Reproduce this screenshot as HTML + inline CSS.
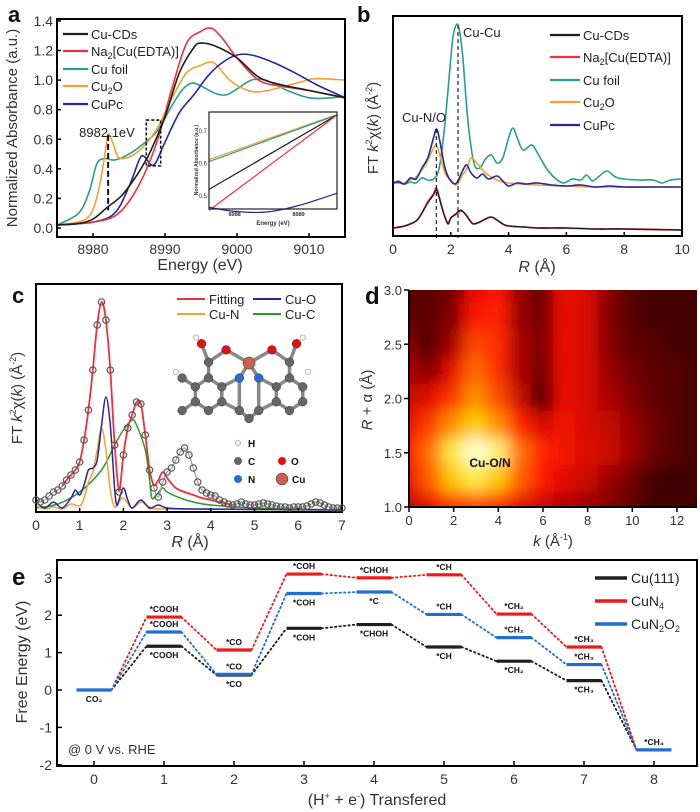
<!DOCTYPE html>
<html><head><meta charset="utf-8"><style>
html,body{margin:0;padding:0;background:#fff;}
svg{display:block;font-family:"Liberation Sans",Arial,sans-serif;}
</style></head><body>
<svg id="fig" width="700" height="812" viewBox="0 0 700 812" xmlns="http://www.w3.org/2000/svg">
<defs>
<filter id="blurD" x="-20%" y="-20%" width="140%" height="140%"><feGaussianBlur stdDeviation="8"/></filter>
<clipPath id="clipD"><rect x="409" y="290" width="288" height="217"/></clipPath>
</defs>
</svg>
<script>
// ---------- Panel a data ----------
const aSeriesNames = ["Cu-CDs","Na2[Cu(EDTA)]","Cu foil","Cu2O","CuPc"];
const aCuCDsE = [8975,8978,8980,8982,8984,8986,8987,8988,8990,8992,8994,8995,8997,9000,9003,9006,9010,9015];
const aCuCDsV = [0.02,0.03,0.06,0.14,0.22,0.35,0.43,0.52,0.75,1.05,1.22,1.25,1.23,1.15,1.02,0.97,0.93,0.88];
const aEdtaE = [8975,8980,8983,8985,8987,8989,8991,8993,8995,8996.5,8998,9000,9003,9006,9010,9015];
const aEdtaV = [0.02,0.04,0.08,0.18,0.35,0.6,0.95,1.25,1.33,1.35,1.28,1.15,1.0,0.96,0.93,0.88];
const aFoilE = [8975,8978,8979.5,8980.5,8981.5,8983,8985,8987,8989,8991,8992.5,8993.8,8995,8997,8998.5,9000,9002,9004,9007,9010,9013,9015];
const aFoilV = [0.02,0.1,0.25,0.43,0.47,0.46,0.5,0.57,0.66,0.83,0.94,0.98,0.96,0.91,0.9,0.94,1.0,1.0,0.93,0.88,0.88,0.89];
const aCu2OE = [8975,8979,8980.5,8981.5,8982.1,8982.8,8983.5,8985,8987,8989,8991,8993,8995,8996,8997,8999,9001,9003,9006,9009,9011,9015];
const aCu2OV = [0.02,0.06,0.2,0.45,0.63,0.57,0.48,0.48,0.55,0.68,0.88,1.05,1.1,1.12,1.11,1.0,0.94,0.92,0.95,0.99,1.01,1.0];
const aCuPcE = [8975,8980,8983,8985,8986.5,8987.2,8988,8988.7,8990,8992,8994,8996,8998,9000,9002,9005,9008,9011,9015];
const aCuPcV = [0.02,0.04,0.1,0.28,0.47,0.48,0.43,0.44,0.58,0.78,0.9,1.03,1.12,1.17,1.17,1.12,1.05,0.97,0.88];
const aXTicks = [8980,8990,9000,9010];
const aYTicks = [0.0,0.2,0.4,0.6,0.8,1.0,1.2,1.4];
const aInsetE = [8987.6,8989.6];
const aInsetOrange = [0.612,0.752];
const aInsetTeal = [0.606,0.75];
const aInsetBlack = [0.52,0.75];
const aInsetRed = [0.455,0.75];
const aInsetBlueE = [8987.6,8988,8988.5,8989,8989.6];
const aInsetBlueV = [0.465,0.452,0.45,0.47,0.508];
// ---------- Panel b data ----------
const bFoilR = [0,0.2,0.4,0.6,0.8,1.0,1.2,1.4,1.6,1.8,2.0,2.1,2.25,2.4,2.6,2.8,3.0,3.2,3.4,3.6,3.8,4.0,4.15,4.3,4.5,4.8,5.0,5.3,5.6,5.9,6.2,6.5,6.7,6.9,7.1,7.4,7.7,8.0,8.5,9.0,9.3,9.6,10];
const bFoilV = [0,2,-1,1,0,5,3,4,15,60,125,150,158,130,60,20,15,24,28,20,25,45,55,45,33,38,30,15,5,0,4,3,8,2,6,12,6,4,3,3,0,3,4];
const bCuPcR = [0,0.2,0.4,0.6,0.8,1.0,1.2,1.4,1.5,1.6,1.8,2.0,2.2,2.4,2.55,2.7,2.9,3.1,3.3,3.6,3.8,4.0,4.3,4.6,5.0,5.5,6.0,6.5,7.0,7.5,8,9,10];
const bCuPcV = [0,1,-1,5,4,15,25,45,54,45,15,2,0,12,18,10,5,9,4,7,2,-3,0,-1,0,-2,-3,-2,-4,-3,-4,-4,-4];
const bCu2OR = [0,0.4,0.6,0.8,1.0,1.2,1.4,1.5,1.6,1.8,2.0,2.2,2.4,2.55,2.7,2.9,3.2,3.6,4.0,5,6,7,8,10];
const bCu2OV = [0,0,3,6,13,22,35,38,30,10,3,-2,8,14,25,20,10,3,0,-2,-3,-4,-4,-4];
const bCDsR = [0,0.4,0.8,1.0,1.2,1.4,1.5,1.6,1.75,1.9,2.0,2.2,2.35,2.5,2.7,2.8,3.0,3.2,3.4,3.6,3.8,4.0,4.5,5,6,7,8,10];
const bCDsV = [0,2,7,15,25,33,38,30,15,4,10,15,18,14,6,4,6,9,11,8,4,2,1,0,0,-1,-1,-2];
const bEdtaV = [0,2,7,15,26,34,40,31,15,5,10,14,17,14,6,4,6,9,11,8,4,2,1,0,0,-1,-1,-2];
const bXTicks = [0,2,4,6,8,10];
// ---------- Panel c data ----------
const cExpR = [0,0.1,0.2,0.3,0.4,0.5,0.6,0.7,0.8,0.9,1.0,1.1,1.2,1.3,1.4,1.5,1.6,1.7,1.8,1.9,2.0,2.1,2.2,2.3,2.4,2.5,2.6,2.7,2.8,2.9,3.0,3.1,3.2,3.3,3.4,3.5,3.6,3.7,3.8,3.9,4.0,4.1,4.2,4.3,4.4,4.5,4.6,4.7,4.8,4.9,5.0,5.1,5.2,5.3,5.4,5.5,5.6,5.7,5.8,5.9,6.0,6.1,6.2,6.3,6.4,6.5,6.6,6.7,6.8,6.9,7.0];
const cExpV = [10,8,10,14,18,20,24,30,35,40,48,70,100,140,185,208,190,140,65,18,55,82,95,108,106,75,40,22,13,28,38,42,50,58,62,55,42,28,20,17,15,14,10,8,6,5,6,8,6,5,5,6,7,6,5,4,3,3,2,3,3,3,4,6,8,7,5,3,2,2,2];
const cFitR = [0.6,0.7,0.8,0.9,1.0,1.1,1.2,1.3,1.4,1.5,1.6,1.7,1.8,1.9,2.0,2.1,2.2,2.3,2.4,2.5,2.6,2.7,2.8,2.9,3.0,3.2,3.4,3.6,3.8,4.0,4.5];
const cFitV = [24,30,35,40,48,70,100,140,185,208,190,140,65,20,55,82,95,108,106,75,40,25,30,38,32,22,18,15,12,10,5];
const cOR = [0,0.2,0.4,0.6,0.8,0.9,1.0,1.1,1.2,1.3,1.4,1.5,1.6,1.7,1.8,1.85,1.9,2.0,2.1,2.2,2.4,2.6,2.8,3.0,3.5,4,7];
const cOV = [8,2,8,2,12,20,15,25,40,42,50,85,113,85,20,5,10,22,10,2,10,2,5,2,1,1,0];
const cNR = [0,0.2,0.4,0.6,0.8,1.0,1.1,1.2,1.3,1.4,1.5,1.6,1.7,1.8,1.9,2.0,2.2,2.4,2.6,3,7];
const cNV = [4,1,3,1,6,4,12,28,38,60,82,60,20,3,8,12,2,8,3,1,0];
const cCR = [0,0.5,1.0,1.5,1.8,2.0,2.2,2.3,2.5,2.6,2.65,2.75,2.9,3.0,3.3,3.6,4.0,5,7];
const cCV = [2,6,18,40,65,80,90,85,60,30,12,15,22,18,12,8,5,2,0];
const cXTicks = [0,1,2,3,4,5,6,7];
// ---------- Panel d data ----------
const dK = [0,1,2,3,4,5,6,7,8,9,10,11,12,13];
const dR = [3.0,2.75,2.5,2.25,2.0,1.75,1.5,1.25,1.0];
const dZ = [
[0.12,0.15,0.2,0.5,0.55,0.3,0.15,0.5,0.45,0.25,0.12,0.08,0.08,0.08],
[0.15,0.15,0.25,0.55,0.58,0.3,0.2,0.5,0.45,0.25,0.12,0.08,0.08,0.08],
[0.25,0.1,0.35,0.65,0.6,0.35,0.22,0.5,0.45,0.25,0.15,0.12,0.08,0.08],
[0.35,0.25,0.5,0.72,0.6,0.35,0.2,0.5,0.45,0.3,0.2,0.15,0.12,0.08],
[0.42,0.48,0.62,0.78,0.66,0.42,0.08,0.5,0.45,0.35,0.25,0.15,0.12,0.08],
[0.5,0.63,0.78,0.86,0.78,0.58,0.45,0.52,0.45,0.4,0.3,0.2,0.12,0.08],
[0.55,0.74,0.92,1.0,0.95,0.74,0.58,0.52,0.48,0.42,0.32,0.18,0.12,0.08],
[0.5,0.7,0.85,0.92,0.85,0.7,0.55,0.48,0.42,0.32,0.2,0.08,0.05,0.08],
[0.4,0.5,0.6,0.65,0.6,0.5,0.42,0.38,0.32,0.25,0.15,0.08,0.08,0.08]];
const dXTicks = [0,2,4,6,8,10,12];
const dYTicks = [1.0,1.5,2.0,2.5,3.0];
// ---------- Panel e data ----------
const eSteps = [0,1,2,3,4,5,6,7,8];
const eCu111 = [0,1.17,0.40,1.65,1.75,1.15,0.77,0.25,-1.6];
const eCuN4 = [0,1.95,1.07,3.1,3.0,3.08,2.03,1.15,-1.6];
const eCuN2O2 = [0,1.55,0.42,2.58,2.62,2.02,1.4,0.68,-1.6];
const eLblBlack = ["","*COOH","*CO","*COH","*CHOH","*CH","*CH₂","*CH₃",""];
const eLblRed = ["","*COOH","*CO","*COH","*CHOH","*CH","*CH₂","*CH₃",""];
const eLblBlue = ["CO₂","*COOH","*CO","*COH","*C","*CH","*CH₂","*CH₃","*CH₄"];
const eBlueBelow = [true,false,false,true,true,false,false,false,false];
const eYTicks = [-2,-1,0,1,2,3];

const NS="http://www.w3.org/2000/svg";
const svg=document.getElementById('fig');
function el(tag,attrs,parent){const e=document.createElementNS(NS,tag);for(const k in attrs)e.setAttribute(k,attrs[k]);(parent||svg).appendChild(e);return e;}
function txt(s,x,y,size,anchor,parent,extra){const t=el('text',Object.assign({x:x,y:y,'font-size':size,'text-anchor':anchor||'middle',fill:'#111'},extra||{}),parent);t.textContent=s;return t;}
function smooth(pts){let d='M'+pts[0][0].toFixed(1)+','+pts[0][1].toFixed(1);for(let i=0;i<pts.length-1;i++){const p0=pts[i-1]||pts[i],p1=pts[i],p2=pts[i+1],p3=pts[i+2]||p2;const c1x=p1[0]+(p2[0]-p0[0])/6,c1y=p1[1]+(p2[1]-p0[1])/6,c2x=p2[0]-(p3[0]-p1[0])/6,c2y=p2[1]-(p3[1]-p1[1])/6;d+='C'+c1x.toFixed(1)+','+c1y.toFixed(1)+' '+c2x.toFixed(1)+','+c2y.toFixed(1)+' '+p2[0].toFixed(1)+','+p2[1].toFixed(1);}return d;}
function curve(xs,ys,fx,fy,color,w,parent,name){const p=el('path',{d:smooth(xs.map((x,i)=>[fx(x),fy(ys[i])])),fill:'none',stroke:color,'stroke-width':w,'stroke-linejoin':'round'},parent);return p;}
function group(name){const g=el('g',{});return g;}
const COL={black:'#1e1e1e',red:'#f0303a',teal:'#2a9d8f',orange:'#f6a030',blue:'#2626a0',green:'#2a9a2a',eblue:'#1f6fd0',ered:'#f01818'};

// ================= Panel a =================
(function(){
const g=group('panel-a');
const ax=e=>57+(e-8975)*7.2, ay=v=>228-v*147.9;
txt('a',8,22,22,'start',g,{'font-weight':'bold'});
const cols=[COL.black,COL.red,COL.teal,COL.orange,COL.blue];
curve(aFoilE,aFoilV,ax,ay,COL.teal,1.6,g,'series-cu-foil');
curve(aCu2OE,aCu2OV,ax,ay,COL.orange,1.6,g,'series-cu2o');
curve(aCuPcE,aCuPcV,ax,ay,COL.blue,1.6,g,'series-cupc');
curve(aEdtaE,aEdtaV,ax,ay,COL.red,1.6,g,'series-na2-cu-edta');
curve(aCuCDsE,aCuCDsV,ax,ay,COL.black,1.6,g,'series-cu-cds');
const box=el('rect',{x:57,y:19,width:288,height:218,fill:'none',stroke:'#000','stroke-width':2},g);

aYTicks.forEach(v=>{el('line',{x1:57,x2:61,y1:ay(v),y2:ay(v),stroke:'#000','stroke-width':1.5},g);const t=txt(v.toFixed(1),53,ay(v)+5,14,'end',g,{fill:'#333'});});
aXTicks.forEach(v=>{el('line',{x1:ax(v),x2:ax(v),y1:237,y2:233,stroke:'#000','stroke-width':1.5},g);const t=txt(String(v),ax(v),254,14,'middle',g,{fill:'#333'});});
const xt=txt('Energy (eV)',200,270,16,'middle',g,{fill:'#333'});
const yt=txt('Normalized Absorbance (a.u.)',0,0,15,'middle',g,{fill:'#333',transform:'translate(17,128) rotate(-90)'});
const lg=group('legend-a');
const lys=[34,51,69,86,104];
const lbl=['Cu-CDs','Na<tspan font-size="9" dy="3">2</tspan><tspan dy="-3">[Cu(EDTA)]</tspan>','Cu foil','Cu<tspan font-size="9" dy="3">2</tspan><tspan dy="-3">O</tspan>','CuPc'];
lys.forEach((y,i)=>{el('line',{x1:63,x2:88,y1:y,y2:y,stroke:cols[i],'stroke-width':2.2},lg);const t=el('text',{x:91,y:y+5,'font-size':13,fill:'#222'},lg);t.innerHTML=lbl[i];});
el('line',{x1:ax(8982.1),x2:ax(8982.1),y1:ay(0.63),y2:ay(0.12),stroke:'#111','stroke-width':2,'stroke-dasharray':'6,3'},g);
const an=txt('8982.1eV',107,137,13,'middle',g,{fill:'#222'});
el('rect',{x:ax(8987.4),y:ay(0.73),width:ax(8989.4)-ax(8987.4),height:ay(0.42)-ay(0.73),fill:'none',stroke:'#111','stroke-width':1.6,'stroke-dasharray':'3,2'},g);
const ig=group('inset-a');
el('rect',{x:209,y:112,width:128,height:97,fill:'#fff',stroke:'none'},ig);
const ix=e=>209+(e-8987.6)*64, iy=v=>209-(v-0.45)*(97/0.3)+3;
curve(aInsetE,aInsetOrange,ix,iy,COL.orange,1.2,ig,'inset-cu2o');
curve(aInsetE,aInsetTeal,ix,iy,COL.teal,1.2,ig,'inset-cu-foil');
curve(aInsetE,aInsetBlack,ix,iy,COL.black,1.2,ig,'inset-cu-cds');
curve(aInsetE,aInsetRed,ix,iy,COL.red,1.2,ig,'inset-na2-cu-edta');
curve(aInsetBlueE,aInsetBlueV,ix,iy,COL.blue,1.2,ig,'inset-cupc');
el('rect',{x:209,y:112,width:128,height:97,fill:'none',stroke:'#222','stroke-width':1.2},ig);
[0.5,0.6,0.7].forEach(v=>txt(v.toFixed(1),207,iy(v)+2,6,'end',ig,{fill:'#333'}));
[8988,8989].forEach(v=>txt(String(v),ix(v),216,5.5,'middle',ig,{fill:'#333','font-weight':'bold'}));
txt('Energy (eV)',273,225,6,'middle',ig,{fill:'#333','font-weight':'bold'});
txt('Normalized Absorbance (a.u.)',0,0,5,'middle',ig,{fill:'#333',transform:'translate(198,160) rotate(-90)','font-weight':'bold'});
})();

// ================= Panel b =================
(function(){
const g=group('panel-b');
const bx=r=>393+r*28.9, byU=v=>183-v, byL=v=>228-v;
txt('b',357,22,22,'start',g,{'font-weight':'bold'});
curve(bFoilR,bFoilV,bx,byU,COL.teal,1.6,g,'series-cu-foil');
curve(bCu2OR,bCu2OV,bx,byU,COL.orange,1.6,g,'series-cu2o');
curve(bCuPcR,bCuPcV,bx,byU,COL.blue,1.6,g,'series-cupc');
curve(bCDsR,bEdtaV,bx,byL,COL.red,1.8,g,'series-na2-cu-edta');
curve(bCDsR,bCDsV,bx,byL,COL.black,1.3,g,'series-cu-cds');
el('line',{x1:bx(1.5),x2:bx(1.5),y1:byU(54),y2:238,stroke:'#222','stroke-width':1.2,'stroke-dasharray':'4,3'},g);
el('line',{x1:bx(2.25),x2:bx(2.25),y1:byU(158),y2:238,stroke:'#222','stroke-width':1.2,'stroke-dasharray':'4,3'},g);
const box=el('rect',{x:393,y:16,width:289,height:220,fill:'none',stroke:'#000','stroke-width':2},g);
bXTicks.forEach(v=>{el('line',{x1:bx(v),x2:bx(v),y1:236,y2:232,stroke:'#000','stroke-width':1.5},g);const t=txt(String(v),bx(v),254,14,'middle',g,{fill:'#333'});});
const xt=el('text',{x:537,y:272,'font-size':16,'text-anchor':'middle',fill:'#333'},g);xt.innerHTML='<tspan font-style="italic">R</tspan> (Å)';
const yt=el('text',{'font-size':15,'text-anchor':'middle',fill:'#333',transform:'translate(378,128) rotate(-90)'},g);yt.innerHTML='FT <tspan font-style="italic">k</tspan><tspan font-size="9" dy="-6">2</tspan><tspan dy="6">χ(</tspan><tspan font-style="italic">k</tspan>) (Å<tspan font-size="9" dy="-6">-2</tspan><tspan dy="6">)</tspan>';
txt('Cu-Cu',463,37,13,'start',g,{fill:'#222'});
txt('Cu-N/O',424,122,13,'middle',g,{fill:'#222'});
const lg=group('legend-b');
const cols=[COL.black,COL.red,COL.teal,COL.orange,COL.blue];
const lbl=['Cu-CDs','Na<tspan font-size="9" dy="3">2</tspan><tspan dy="-3">[Cu(EDTA)]</tspan>','Cu foil','Cu<tspan font-size="9" dy="3">2</tspan><tspan dy="-3">O</tspan>','CuPc'];
[35,57,80,102,125].forEach((y,i)=>{el('line',{x1:550,x2:580,y1:y,y2:y,stroke:cols[i],'stroke-width':2.2},lg);const t=el('text',{x:583,y:y+5,'font-size':13,fill:'#222'},lg);t.innerHTML=lbl[i];});
})();

// ================= Panel c =================
(function(){
const g=group('panel-c');
const cx=r=>36+r*43.7, cy=v=>510-v;
txt('c',12,303,22,'start',g,{'font-weight':'bold'});
const mg=group('molecule-structure');
mg.setAttribute('transform','translate(242,378) scale(0.88) translate(-258,-352)');
const atoms=[[205,362,'C'],[220,352,'C'],[235,362,'C'],[235,379,'C'],[220,389,'C'],[205,379,'C'],[190,352,'C'],[190,389,'C'],[255,352,'N'],[277,352,'N'],[255,389,'C'],[277,389,'C'],[266,398,'C'],[297,362,'C'],[312,352,'C'],[327,362,'C'],[327,379,'C'],[312,389,'C'],[297,379,'C'],[220,334,'C'],[312,334,'C'],[240,320,'O'],[292,320,'O'],[212,313,'O'],[320,313,'O'],[266,335,'Cu']];
const bonds=[[0,1],[1,2],[2,3],[3,4],[4,5],[5,0],[0,6],[5,7],[2,8],[8,10],[3,10],[10,12],[12,11],[11,9],[9,13],[13,18],[11,18],[13,14],[14,15],[15,16],[16,17],[17,18],[1,19],[14,20],[19,21],[20,22],[19,23],[20,24],[21,25],[22,25],[8,25],[9,25]];
bonds.forEach(b=>el('line',{x1:atoms[b[0]][0],y1:atoms[b[0]][1],x2:atoms[b[1]][0],y2:atoms[b[1]][1],stroke:'#888','stroke-width':4},mg));
const ac={C:'#666',N:'#2070d0',O:'#e01010',Cu:'#c86050'};
atoms.forEach(a=>el('circle',{cx:a[0],cy:a[1],r:a[2]==='Cu'?7:5,fill:ac[a[2]],stroke:'#333','stroke-width':0.5},mg));
[[206,306],[327,306],[183,345],[333,345]].forEach(p=>el('circle',{cx:p[0],cy:p[1],r:3,fill:'#fff',stroke:'#c9a0a8','stroke-width':1},mg));
const al=group('atom-legend');
el('circle',{cx:238,cy:443,r:2.5,fill:'#fff',stroke:'#c9a0a8'},al);txt('H',248,447,10,'start',al,{'font-weight':'bold'});
el('circle',{cx:238,cy:461,r:4,fill:'#666'},al);txt('C',248,465,10,'start',al,{'font-weight':'bold'});
el('circle',{cx:282,cy:461,r:4,fill:'#e01010'},al);txt('O',291,465,10,'start',al,{'font-weight':'bold'});
el('circle',{cx:238,cy:479,r:4,fill:'#2070d0'},al);txt('N',248,483,10,'start',al,{'font-weight':'bold'});
el('circle',{cx:282,cy:479,r:6,fill:'#c86050',stroke:'#333','stroke-width':0.5},al);txt('Cu',292,483,10,'start',al,{'font-weight':'bold'});
curve(cCR,cCV,cx,cy,COL.green,1.5,g,'series-cu-c');
curve(cNR,cNV,cx,cy,COL.orange,1.5,g,'series-cu-n');
curve(cOR,cOV,cx,cy,COL.blue,1.5,g,'series-cu-o');
curve(cExpR,cExpV,cx,cy,'#999',1.2,g,'series-experimental-line');
const eg=group('series-experimental');
cExpR.forEach((r,i)=>{const c=el('circle',{cx:cx(r),cy:cy(cExpV[i]),r:3.2,fill:'none',stroke:'#555','stroke-width':1.2},eg);});
curve(cFitR,cFitV,cx,cy,COL.red,1.8,g,'series-fitting');
const box=el('rect',{x:36,y:284,width:306,height:228,fill:'none',stroke:'#000','stroke-width':2},g);
cXTicks.forEach(v=>{el('line',{x1:cx(v),x2:cx(v),y1:512,y2:508,stroke:'#000','stroke-width':1.5},g);const t=txt(String(v),cx(v),530,14,'middle',g,{fill:'#333'});});
const xt=el('text',{x:190,y:547,'font-size':16,'text-anchor':'middle',fill:'#333'},g);xt.innerHTML='<tspan font-style="italic">R</tspan> (Å)';
const yt=el('text',{'font-size':15,'text-anchor':'middle',fill:'#333',transform:'translate(22,398) rotate(-90)'},g);yt.innerHTML='FT <tspan font-style="italic">k</tspan><tspan font-size="9" dy="-6">2</tspan><tspan dy="6">χ(</tspan><tspan font-style="italic">k</tspan>) (Å<tspan font-size="9" dy="-6">-2</tspan><tspan dy="6">)</tspan>';
const lg=group('legend-c');
[[177,299,COL.red,'Fitting'],[253,299,COL.blue,'Cu-O'],[177,314,COL.orange,'Cu-N'],[253,314,COL.green,'Cu-C']].forEach(e=>{el('line',{x1:e[0],x2:e[0]+28,y1:e[1],y2:e[1],stroke:e[2],'stroke-width':2},lg);const t=txt(e[3],e[0]+32,e[1]+5,13,'start',lg,{fill:'#222'});});
})();

// ================= Panel d =================
(function(){
const g=group('panel-d');
const dx=k=>409+k*22.33, dy=r=>507-(r-1)*108.5;
function cmap(v){const stops=[[0,[40,0,0]],[0.3,[150,0,0]],[0.55,[255,20,0]],[0.75,[255,120,0]],[0.88,[255,225,0]],[1,[255,255,210]]];for(let i=0;i<stops.length-1;i++){const a=stops[i],b=stops[i+1];if(v<=b[0]){const t=(v-a[0])/(b[0]-a[0]);return 'rgb('+a[1].map((c,j)=>Math.round(c+(b[1][j]-c)*t)).join(',')+')';}}return 'rgb(255,255,210)';}
const hg=el('g',{'clip-path':'url(#clipD)'},g);
el('rect',{x:409,y:290,width:288,height:217,fill:cmap(0.25)},hg);
const bl=el('g',{filter:'url(#blurD)'},hg);

dR.forEach((r,i)=>dK.forEach((k,j)=>{const c=el('rect',{x:dx(k-0.5)-1,y:dy(r+0.125)-1,width:22.33+2,height:27.1+2,fill:cmap(dZ[i][j])},bl);}));
dR.forEach((r,i)=>{el('rect',{x:dx(-1.5),y:dy(r+0.125),width:22.33,height:27.1,fill:cmap(dZ[i][0])},bl);el('rect',{x:dx(13.5),y:dy(r+0.125),width:22.33,height:27.1,fill:cmap(dZ[i][13])},bl);});
dK.forEach((k,j)=>{el('rect',{x:dx(k-0.5),y:dy(3.375),width:22.33,height:27.1,fill:cmap(dZ[0][j])},bl);el('rect',{x:dx(k-0.5),y:dy(0.875),width:22.33,height:27.1,fill:cmap(dZ[8][j])},bl);});
txt('d',365,304,24,'start',g,{'font-weight':'bold'});
el('line',{x1:409,x2:409,y1:290,y2:507,stroke:'#000','stroke-width':2},g);
el('line',{x1:409,x2:697,y1:507,y2:507,stroke:'#000','stroke-width':2},g);
dYTicks.forEach(v=>{el('line',{x1:404,x2:409,y1:dy(v),y2:dy(v),stroke:'#000','stroke-width':1.5},g);const t=txt(v.toFixed(1),402,dy(v)+5,13,'end',g,{fill:'#333'});});
dXTicks.forEach(v=>{el('line',{x1:dx(v),x2:dx(v),y1:507,y2:512,stroke:'#000','stroke-width':1.5},g);const t=txt(String(v),dx(v),525,13,'middle',g,{fill:'#333'});});
const yt=el('text',{'font-size':15,'text-anchor':'middle',fill:'#333',transform:'translate(372,400) rotate(-90)'},g);yt.innerHTML='<tspan font-style="italic">R</tspan> + α (Å)';
const xt=el('text',{x:553,y:546,'font-size':15,'text-anchor':'middle',fill:'#333'},g);xt.innerHTML='<tspan font-style="italic">k</tspan> (Å<tspan font-size="9" dy="-6">-1</tspan><tspan dy="6">)</tspan>';
const lab=txt('Cu-O/N',490,467,12,'middle',g,{'font-weight':'bold',fill:'#111'});
})();

// ================= Panel e =================
(function(){
const g=group('panel-e');
const ex=s=>94+s*70, ey=v=>690-v*37.4;
const hw=17.5;
txt('e',12,585,24,'start',g,{'font-weight':'bold'});
const series=[[eCu111,COL.black,'cu111'],[eCuN4,COL.ered,'cun4'],[eCuN2O2,COL.eblue,'cun2o2']];
series.forEach(s=>{const vals=s[0];for(let i=0;i<vals.length-1;i++){const l=el('line',{x1:ex(eSteps[i])+hw,y1:ey(vals[i]),x2:ex(eSteps[i+1])-hw,y2:ey(vals[i+1]),stroke:s[1],'stroke-width':1.8,'stroke-dasharray':'1.5,3','stroke-linecap':'round'},g);}});
series.forEach((s,si)=>{const vals=s[0];vals.forEach((v,i)=>{if(si<2&&(i===0||i===8))return;const b=el('line',{x1:ex(eSteps[i])-hw,x2:ex(eSteps[i])+hw,y1:ey(v),y2:ey(v),stroke:s[1],'stroke-width':3.2},g);});});
const lf={'font-size':8.5,'font-weight':'bold',fill:'#111'};
eSteps.forEach(i=>{
 if(eLblRed[i]){txt(eLblRed[i],ex(i),ey(eCuN4[i])-5,8.5,'middle',g,lf);}
 if(eLblBlack[i]){txt(eLblBlack[i],ex(i),ey(eCu111[i])+12,8.5,'middle',g,lf);}
 if(eLblBlue[i]){txt(eLblBlue[i],ex(i),eBlueBelow[i]?ey(eCuN2O2[i])+12:ey(eCuN2O2[i])-5,8.5,'middle',g,lf);}
});
const box=el('rect',{x:57,y:560,width:640,height:206,fill:'none',stroke:'#000','stroke-width':2},g);
eYTicks.forEach(v=>{el('line',{x1:57,x2:62,y1:ey(v),y2:ey(v),stroke:'#000','stroke-width':1.5},g);const t=txt(String(v),52,ey(v)+5,14,'end',g,{fill:'#333'});});
eSteps.forEach(v=>{el('line',{x1:ex(v),x2:ex(v),y1:766,y2:761,stroke:'#000','stroke-width':1.5},g);const t=txt(String(v),ex(v),784,14,'middle',g,{fill:'#333'});});
const yt=txt('Free Energy (eV)',0,0,16,'middle',g,{fill:'#333',transform:'translate(27,662) rotate(-90)'});
const xt=el('text',{x:377,y:805,'font-size':16,'text-anchor':'middle',fill:'#333'},g);xt.innerHTML='(H<tspan font-size="9" dy="-6">+</tspan><tspan dy="6"> + e</tspan><tspan font-size="9" dy="-6">-</tspan><tspan dy="6">) Transfered</tspan>';
const cond=txt('@ 0 V vs. RHE',68,754,13,'start',g,{fill:'#333'});
const lg=group('legend-e');
const lbl=['Cu(111)','CuN<tspan font-size="9" dy="3">4</tspan>','CuN<tspan font-size="9" dy="3">2</tspan><tspan dy="-3">O</tspan><tspan font-size="9" dy="3">2</tspan>'];
[[578,COL.black],[601,COL.ered],[624,COL.eblue]].forEach((r,i)=>{el('line',{x1:595,x2:627,y1:r[0],y2:r[0],stroke:r[1],'stroke-width':3.5},lg);const t=el('text',{x:631,y:r[0]+5,'font-size':14,fill:'#222'},lg);t.innerHTML=lbl[i];});
})();
</script>
</body></html>
